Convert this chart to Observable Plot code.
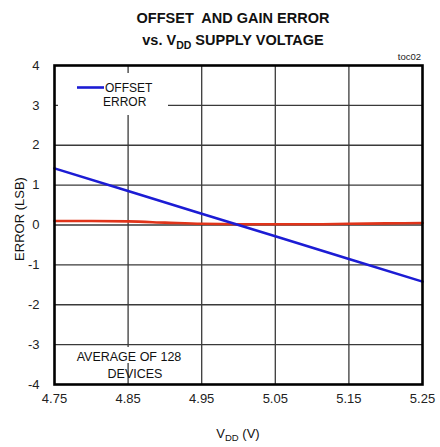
<!DOCTYPE html>
<html><head><meta charset="utf-8">
<script src="https://cdn.jsdelivr.net/npm/d3@7"></script>
<script src="https://cdn.jsdelivr.net/npm/@observablehq/plot@0.6"></script>
<style>body{margin:0;background:#fff}svg{font-family:"Liberation Sans",Arial,sans-serif}</style>
</head><body><div id="chart"></div>
<script>
const xTicks = [4.75, 4.85, 4.95, 5.05, 5.15, 5.25];
const yTicks = [-4, -3, -2, -1, 0, 1, 2, 3, 4];
const offsetV = [4.75, 4.85, 4.95, 5.05, 5.15, 5.25];
const offsetErr = [1.42, 0.85, 0.28, -0.28, -0.85, -1.42];
const gainV = [4.75, 4.80, 4.85, 4.90, 4.95, 5.00, 5.05, 5.10, 5.15, 5.20, 5.25];
const gainErr = [0.10, 0.10, 0.09, 0.06, 0.03, 0.02, 0.02, 0.02, 0.03, 0.04, 0.05];

const offset = offsetV.map((v, i) => ({v, e: offsetErr[i]}));
const gain = gainV.map((v, i) => ({v, e: gainErr[i]}));

const plot = Plot.plot({
  width: 440, height: 447,
  marginLeft: 54, marginRight: 18, marginTop: 65, marginBottom: 63,
  style: {fontFamily: '"Liberation Sans", Arial, sans-serif', fontSize: "13px", background: "#fff"},
  x: {domain: [4.75, 5.25], label: null},
  y: {domain: [-4, 4], label: null},
  marks: [
    Plot.gridX(xTicks.slice(1, -1), {stroke: "#3a3a3a", strokeOpacity: 1, strokeWidth: 1.3}),
    Plot.gridY(yTicks.slice(1, -1), {stroke: "#3a3a3a", strokeOpacity: 1, strokeWidth: 1.3}),
    Plot.axisX(xTicks, {tickSize: 0, tickPadding: 9, fill: "#222", fontSize: 13, tickFormat: d3.format(".2f")}),
    Plot.axisY(yTicks, {tickSize: 0, tickPadding: 15, textAnchor: "end", fill: "#222", fontSize: 13, tickFormat: d => String(d)}),
    Plot.line(gain, {x: "v", y: "e", stroke: "#e0341a", strokeWidth: 2.6, curve: "monotone-x"}),
    Plot.line(offset, {x: "v", y: "e", stroke: "#1c1cd4", strokeWidth: 2.6}),
    Plot.frame({stroke: "#000", strokeWidth: 2.6})
  ]
});
document.getElementById("chart").appendChild(plot);

const svg = d3.select(plot);
svg.selectAll('g[aria-label$="tick label"]').style("font-size", "13px");
svg.selectAll('g[aria-label$="tick label"] text').style("font-size", "13px");

// legend box (white background covering grid)
const lg = svg.append("g").attr("text-anchor", "start").style("font-size", "12px").attr("fill", "#111");
lg.append("rect").attr("x", 58).attr("y", 73).attr("width", 110).attr("height", 42).attr("fill", "#fff");
lg.append("line").attr("x1", 77).attr("x2", 104).attr("y1", 87.5).attr("y2", 87.5).attr("stroke", "#1c1cd4").attr("stroke-width", 2.6);
lg.append("text").attr("x", 105).attr("y", 92).text("OFFSET");
lg.append("text").attr("x", 103).attr("y", 106).text("ERROR");

// note
const ng = svg.append("g").style("font-size", "12.5px").attr("fill", "#111").attr("text-anchor", "middle");
ng.append("rect").attr("x", 70).attr("y", 347).attr("width", 118).attr("height", 16).attr("fill", "#fff");
ng.append("text").attr("x", 129).attr("y", 361).text("AVERAGE OF 128");
ng.append("text").attr("x", 135).attr("y", 378).text("DEVICES");

// title
const tg = svg.append("g").attr("font-weight", "bold").style("font-size", "14.5px").attr("text-anchor", "middle").attr("fill", "#111");
tg.append("text").attr("x", 233).attr("y", 23).text("OFFSET  AND GAIN ERROR").style("white-space", "pre");
const t2 = tg.append("text").attr("x", 233).attr("y", 45);
t2.append("tspan").text("vs. V");
t2.append("tspan").style("font-size", "10.5px").attr("dy", 4).text("DD");
t2.append("tspan").attr("dy", -4).text(" SUPPLY VOLTAGE");

// toc
svg.append("text").attr("x", 421).attr("y", 60).style("font-size", "9.5px").attr("text-anchor", "end").attr("fill", "#222").text("toc02");

// y label
svg.append("text").attr("transform", "translate(24,219) rotate(-90)").style("font-size", "13px").attr("text-anchor", "middle").attr("fill", "#111").text("ERROR (LSB)");

// x label
const xl = svg.append("text").attr("x", 238).attr("y", 438).style("font-size", "13px").attr("text-anchor", "middle").attr("fill", "#111");
xl.append("tspan").text("V");
xl.append("tspan").style("font-size", "9.5px").attr("dy", 3).text("DD");
xl.append("tspan").attr("dy", -3).text(" (V)");
</script></body></html>
